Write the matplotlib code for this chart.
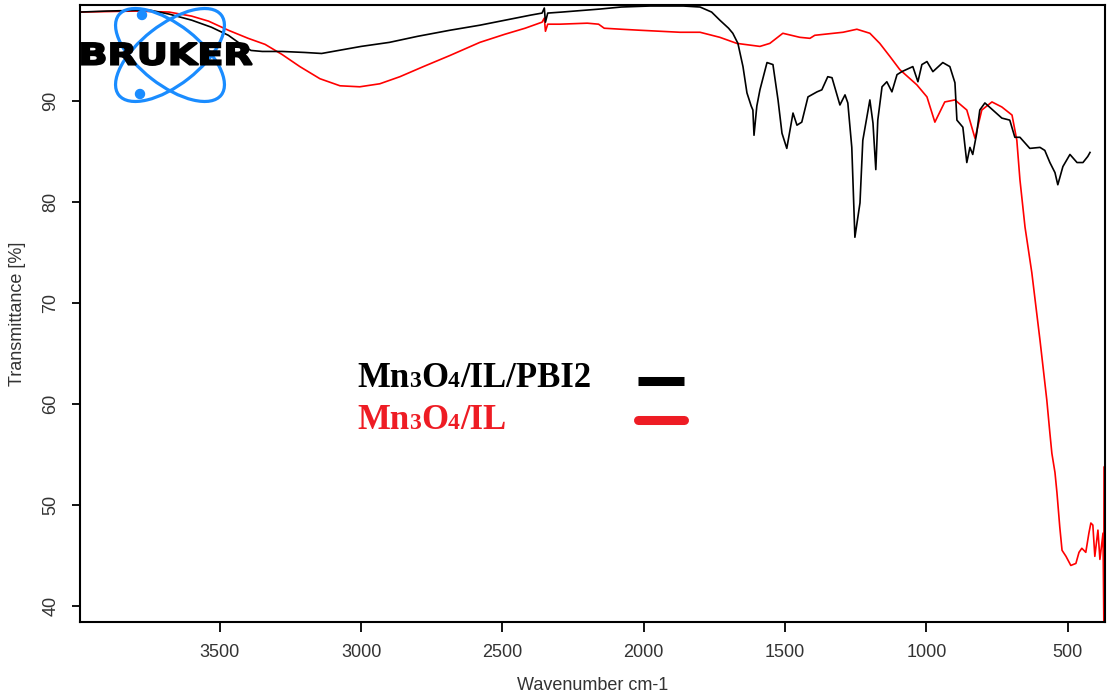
import matplotlib
matplotlib.use("Agg")
import matplotlib.pyplot as plt
from matplotlib.patches import Ellipse, Circle, PathPatch
from matplotlib.textpath import TextPath
from matplotlib.font_manager import FontProperties
from matplotlib.transforms import Affine2D

# ---------------- data ----------------
pbi_wn = [3995, 3900, 3750, 3680, 3600, 3530, 3470, 3420, 3390, 3350, 3280, 3200, 3140,
          3080, 3000, 2900, 2800, 2686, 2580, 2490, 2400, 2360, 2352, 2348, 2340, 2290,
          2155, 2080, 1978, 1860, 1801, 1760, 1731, 1700, 1685, 1667, 1649, 1635, 1620,
          1614, 1610, 1600, 1589, 1564, 1543, 1525, 1511, 1494, 1472, 1458, 1441, 1419,
          1387, 1370, 1349, 1334, 1306, 1288, 1278, 1264, 1253, 1235, 1225, 1200, 1189,
          1179, 1172, 1157, 1140, 1122, 1104, 1087, 1048, 1030, 1016, 998, 977, 942, 917,
          899, 892, 871, 857, 846, 836, 822, 811, 793, 765, 733, 705, 687, 669, 634, 598,
          581, 563, 545, 535, 517, 492, 467, 446, 429, 421]
pbi_t = [98.8, 98.9, 99.0, 98.6, 98.0, 97.3, 96.5, 95.5, 95.0, 94.9, 94.9, 94.8, 94.7,
         95.0, 95.4, 95.8, 96.4, 97.0, 97.5, 98.0, 98.5, 98.7, 99.2, 97.8, 98.7, 98.8,
         99.1, 99.3, 99.4, 99.4, 99.3, 98.8, 98.0, 97.2, 96.7, 95.7, 93.4, 90.8, 89.5,
         89.1, 86.6, 89.5, 91.1, 93.8, 93.6, 90.1, 86.8, 85.3, 88.8, 87.6, 87.9, 90.4,
         90.9, 91.1, 92.4, 92.3, 89.6, 90.6, 89.8, 85.4, 76.5, 79.9, 86.1, 90.1, 87.8,
         83.2, 88.1, 91.4, 91.9, 90.9, 92.6, 92.9, 93.4, 91.9, 93.6, 93.9, 92.9, 93.8, 93.4,
         91.8, 88.1, 87.4, 83.9, 85.4, 84.7, 86.8, 89.1, 89.8, 89.1, 88.3, 88.1, 86.4, 86.4,
         85.3, 85.4, 85.1, 83.9, 82.9, 81.7, 83.5, 84.7, 83.9, 83.9, 84.5, 84.9]

il_wn = [3995, 3800, 3680, 3600, 3540, 3470, 3400, 3340, 3280, 3217, 3146, 3075, 3005,
         2934, 2863, 2780, 2686, 2580, 2492, 2420, 2360, 2352, 2348, 2340, 2297, 2200,
         2160, 2140, 2080, 2014, 1872, 1801, 1731, 1671, 1589, 1554, 1508, 1448, 1412,
         1395, 1295, 1246, 1200, 1165, 1129, 1094, 1034, 998, 970, 935, 899, 857, 828,
         804, 768, 733, 697, 680, 669, 651, 627, 598, 574, 563, 556, 545, 538, 528, 520,
         506, 489, 471, 460, 450, 436, 425, 418, 411, 404, 393, 386, 375, 372, 370, 369, 368]
il_t = [98.8, 98.9, 98.8, 98.4, 97.9, 97.0, 96.2, 95.6, 94.6, 93.4, 92.2, 91.5, 91.4,
        91.7, 92.4, 93.4, 94.5, 95.8, 96.6, 97.2, 97.8, 98.2, 96.9, 97.6, 97.6, 97.7,
        97.6, 97.2, 97.1, 97.0, 96.8, 96.8, 96.3, 95.7, 95.4, 95.7, 96.7, 96.3, 96.2,
        96.5, 96.8, 97.1, 96.7, 95.7, 94.4, 93.1, 91.6, 90.4, 87.9, 89.9, 90.1, 89.1, 86.3,
        89.1, 89.9, 89.4, 88.6, 86.1, 82.2, 77.5, 73.0, 66.3, 60.4, 57.1, 55.1, 53.2, 51.2,
        47.8, 45.5, 44.9, 44.0, 44.2, 45.3, 45.7, 45.3, 47.2, 48.2, 48.0, 44.9, 47.5, 44.6,
        47.2, 38.0, 53.8, 38.0, 30.0]

x_ticks = [3500, 3000, 2500, 2000, 1500, 1000, 500]
y_ticks = [40, 50, 60, 70, 80, 90]

W, H = 1108, 698
fig = plt.figure(figsize=(W / 100, H / 100), dpi=100)
ax = fig.add_axes([80 / W, (H - 622) / H, (1105 - 80) / W, (622 - 5) / H])

ax.plot(pbi_wn, pbi_t, color="black", lw=1.2, zorder=3)
ax.plot(il_wn, il_t, color="#ff0000", lw=1.2, zorder=2)

ax.set_xlim(3995, 368)
ax.set_ylim(38.4, 99.5)
ax.set_xticks(x_ticks)
ax.set_yticks(y_ticks)
for s in ax.spines.values():
    s.set_linewidth(1.5)
    s.set_color("black")

ax.tick_params(axis="x", direction="out", length=7, width=1.3, pad=9, colors="black",
               labelcolor="#333333")
ax.tick_params(axis="y", direction="out", length=6, width=1.3, pad=9, colors="black",
               labelcolor="#333333")
for lab in ax.get_xticklabels():
    lab.set_fontfamily("Liberation Sans")
    lab.set_fontsize(13)
for lab in ax.get_yticklabels():
    lab.set_fontfamily("Liberation Sans")
    lab.set_fontsize(13)
    lab.set_rotation(90)
    lab.set_va("center")

ax.set_xlabel("Wavenumber cm-1", fontfamily="Liberation Sans", fontsize=13, color="#333333")
ax.set_ylabel("Transmittance [%]", fontfamily="Liberation Sans", fontsize=13, color="#333333")
ax.xaxis.set_label_coords(0.5, (622 - 685) / 617)
ax.xaxis.label.set_va("center")
ax.yaxis.set_label_coords((18 - 80) / 1025, 0.5)
ax.yaxis.label.set_va("center")

# ---------------- overlay in pixel coordinates ----------------
ov = fig.add_axes([0, 0, 1, 1], zorder=5)
ov.set_xlim(0, W)
ov.set_ylim(H, 0)
ov.axis("off")
ov.patch.set_alpha(0)

# Bruker logo
blue = "#1a8cff"
for ang in (38, -38):
    ov.add_patch(Ellipse((170, 55), 130, 60, angle=ang, fill=False, ec=blue, lw=2.3))
ov.add_patch(Circle((142, 15), 4.5, color=blue))
ov.add_patch(Circle((140, 94), 4.5, color=blue))
tp = TextPath((0, 0), "BRUKER", size=1, prop=FontProperties(family="DejaVu Sans", weight="bold"))
ext = tp.get_extents()
sx = (252 - 82) / ext.width
sy = (65 - 43) / ext.height
tr = Affine2D().translate(-ext.x0, -ext.y0).scale(sx, -sy).translate(82, 65)
ov.add_patch(PathPatch(tr.transform_path(tp), fc="black", ec="black", lw=1.4))

# Legend-like annotation with small digits
fig.canvas.draw()
renderer = fig.canvas.get_renderer()


def write_pieces(x0, y_base, pieces, color):
    x = x0
    for txt, size in pieces:
        t = ov.text(x, y_base, txt, fontsize=size, fontfamily="Liberation Serif",
                    fontweight="bold", color=color, va="baseline", ha="left")
        bb = t.get_window_extent(renderer=renderer)
        x += bb.width


big, small = 25, 17
write_pieces(357, 387, [("Mn", big), ("3", small), ("O", big), ("4", small), ("/IL/PBI2", big)], "black")
write_pieces(357, 429, [("Mn", big), ("3", small), ("O", big), ("4", small), ("/IL", big)], "#ee1c24")
ov.plot([638, 684], [381, 381], color="black", lw=6.5, solid_capstyle="butt")
ov.plot([638, 684], [420, 420], color="#ee1c24", lw=6.5, solid_capstyle="round")

fig.savefig("out.png", dpi=100)
